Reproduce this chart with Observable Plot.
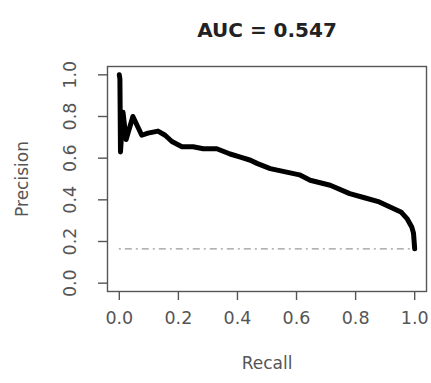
<!DOCTYPE html>
<html><head><meta charset="utf-8">
<script src="https://cdn.jsdelivr.net/npm/d3@7"></script>
<script src="https://cdn.jsdelivr.net/npm/@observablehq/plot@0.6"></script>
<style>body{margin:0;background:#fff}</style>
</head><body><div id="chart"></div>
<script>
const title = "AUC = 0.547";
const xLabel = "Recall";
const yLabel = "Precision";
const baseline = 0.165;
const xTicks = [0, 0.2, 0.4, 0.6, 0.8, 1.0];
const yTicks = [0, 0.2, 0.4, 0.6, 0.8, 1.0];
const recall = [0, 0.002, 0.004, 0.0125, 0.023, 0.046, 0.076, 0.097, 0.131, 0.155, 0.178, 0.212, 0.25, 0.284, 0.33, 0.375, 0.41, 0.444, 0.466, 0.511, 0.61, 0.646, 0.714, 0.78, 0.83, 0.88, 0.955, 0.974, 0.99, 0.996, 1.0];
const precision = [1.0, 0.98, 0.63, 0.82, 0.69, 0.80, 0.71, 0.72, 0.73, 0.71, 0.68, 0.655, 0.655, 0.645, 0.645, 0.62, 0.605, 0.59, 0.575, 0.55, 0.52, 0.494, 0.47, 0.43, 0.41, 0.39, 0.34, 0.31, 0.27, 0.24, 0.165];

const pts = recall.map((r, i) => ({r, p: precision[i]}));
const ink = "#555";
const chart = Plot.plot({
  width: 431, height: 383,
  marginTop: 66, marginBottom: 92, marginLeft: 107, marginRight: 5,
  style: {fontFamily: "DejaVu Sans", background: "#fff"},
  x: {domain: [-0.04, 1.04]},
  y: {domain: [-0.04, 1.04]},
  marks: [
    Plot.ruleY([baseline], {x1: 0, x2: 1, stroke: "#9a9a9a", strokeWidth: 1.3, strokeDasharray: "2,4,7,4"}),
    Plot.line(pts, {x: "r", y: "p", stroke: "#000", strokeWidth: 5, strokeLinejoin: "round", strokeLinecap: "round"}),
    Plot.frame({stroke: ink, strokeWidth: 1.4}),
    Plot.axisX({ticks: xTicks, tickSize: 9, tickFormat: () => "", color: ink, strokeWidth: 1.4, label: null}),
    Plot.axisY({ticks: yTicks, tickSize: 9, tickFormat: () => "", color: ink, strokeWidth: 1.4, label: null}),
    Plot.text(xTicks, {x: d => d, frameAnchor: "bottom", dy: 32, text: d => d.toFixed(1), fontSize: 17.5, fill: ink}),
    Plot.text(yTicks, {y: d => d, frameAnchor: "left", dx: -37, rotate: -90, textAnchor: "middle", text: d => d.toFixed(1), fontSize: 17.5, fill: ink}),
    Plot.text([xLabel], {frameAnchor: "bottom", dy: 77, fontSize: 17, fill: ink}),
    Plot.text([yLabel], {frameAnchor: "left", dx: -85, rotate: -90, textAnchor: "middle", fontSize: 17, fill: ink}),
    Plot.text([title], {frameAnchor: "top", dy: -44, fontSize: 20, fontWeight: "bold", fill: "#222"})
  ]
});
document.getElementById("chart").append(chart);
</script>
</body></html>
